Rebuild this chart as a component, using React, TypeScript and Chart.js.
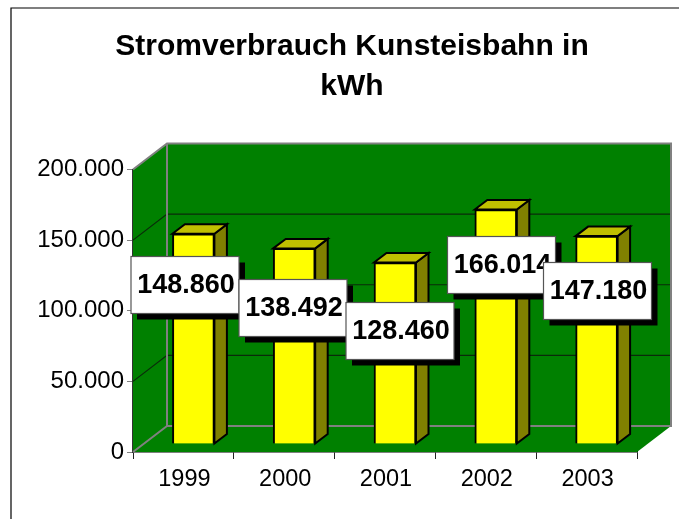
import React, { useEffect, useRef } from "react";
import { Chart, registerables } from "chart.js";

Chart.register(...registerables);

const years = ["1999", "2000", "2001", "2002", "2003"];
const consumption = [148860, 138492, 128460, 166014, 147180];
const valueLabels = ["148.860", "138.492", "128.460", "166.014", "147.180"];
const yTickLabels: Record<number, string> = { 0: "0", 50000: "50.000", 100000: "100.000", 150000: "150.000", 200000: "200.000" };
const titleLines = ["Stromverbrauch Kunsteisbahn in", "kWh"];

// Layout constants
const WALL_DX = 34, WALL_DY = -26;
const BAR_DX = 10, BAR_DY = -8;
const BAR_DEPTH_X = 12.5, BAR_DEPTH_Y = -9.5;
const LABEL_CENTER_X = [185, 293, 400, 501.5, 597.5];
const LABEL_CENTER_Y = [285, 308, 331, 265, 291];
const LABEL_W = 108, LABEL_H = 57;
const GREEN = "#008000";
const GREY = "#808080";
const FONT = "'Liberation Sans', Arial, sans-serif";

const scene = {
  id: "scene3d",
  beforeDraw(chart: any) {
    const { ctx, width, height } = chart;
    ctx.save();
    ctx.fillStyle = "#ffffff";
    ctx.fillRect(0, 0, width, height);
    ctx.strokeStyle = "#000000";
    ctx.lineWidth = 1.2;
    ctx.beginPath();
    ctx.moveTo(11, height);
    ctx.lineTo(11, 8);
    ctx.lineTo(width, 8);
    ctx.stroke();
    ctx.restore();
  },
  beforeDatasetsDraw(chart: any) {
    const { ctx, chartArea: a, scales } = chart;
    const y = scales.y;
    const l = a.left, r = a.right, t = a.top, b = a.bottom;
    const dx = WALL_DX, dy = WALL_DY;
    ctx.save();
    ctx.fillStyle = GREEN;
    ctx.beginPath();
    ctx.moveTo(l, b);
    ctx.lineTo(l + dx, b + dy);
    ctx.lineTo(l + dx, t + dy);
    ctx.lineTo(l, t);
    ctx.closePath();
    ctx.fill();
    ctx.beginPath();
    ctx.moveTo(l, b);
    ctx.lineTo(r, b);
    ctx.lineTo(r + dx, b + dy);
    ctx.lineTo(l + dx, b + dy);
    ctx.closePath();
    ctx.fill();
    ctx.fillRect(l + dx, t + dy, r - l, b - t);

    ctx.lineWidth = 1.2;
    ctx.strokeStyle = "#0a2a0a";
    for (const v of [50000, 100000, 150000]) {
      const p = y.getPixelForValue(v);
      ctx.beginPath();
      ctx.moveTo(l, p);
      ctx.lineTo(l + dx, p + dy);
      ctx.lineTo(r + dx, p + dy);
      ctx.stroke();
    }
    ctx.strokeStyle = GREY;
    ctx.lineWidth = 2;
    ctx.beginPath();
    ctx.moveTo(l, t);
    ctx.lineTo(l + dx, t + dy);
    ctx.lineTo(r + dx, t + dy);
    ctx.lineTo(r + dx, b + dy);
    ctx.lineTo(l + dx, b + dy);
    ctx.lineTo(l + dx, t + dy);
    ctx.moveTo(l + dx, b + dy);
    ctx.lineTo(l, b);
    ctx.stroke();

    // Bar sides and tops, from the bar elements' own geometry
    ctx.translate(BAR_DX, BAR_DY);
    ctx.lineWidth = 2;
    ctx.strokeStyle = "#000000";
    ctx.lineJoin = "miter";
    for (const bar of chart.getDatasetMeta(0).data) {
      const p = bar.getProps(["x", "y", "base", "width"], true);
      const x0 = p.x - p.width / 2, x1 = p.x + p.width / 2;
      ctx.fillStyle = "#808000";
      ctx.beginPath();
      ctx.moveTo(x1, p.y);
      ctx.lineTo(x1 + BAR_DEPTH_X, p.y + BAR_DEPTH_Y);
      ctx.lineTo(x1 + BAR_DEPTH_X, p.base + BAR_DEPTH_Y);
      ctx.lineTo(x1, p.base);
      ctx.closePath();
      ctx.fill();
      ctx.stroke();
      ctx.fillStyle = "#c0c000";
      ctx.beginPath();
      ctx.moveTo(x0, p.y);
      ctx.lineTo(x0 + BAR_DEPTH_X, p.y + BAR_DEPTH_Y);
      ctx.lineTo(x1 + BAR_DEPTH_X, p.y + BAR_DEPTH_Y);
      ctx.lineTo(x1, p.y);
      ctx.closePath();
      ctx.fill();
      ctx.stroke();
    }
    ctx.restore();
    // front faces are shifted onto the bar plane
    ctx.save();
    ctx.translate(BAR_DX, BAR_DY);
  },
  afterDatasetsDraw(chart: any) {
    const { ctx } = chart;
    ctx.restore();
    ctx.save();
    valueLabels.forEach((text, i) => {
      const cx = LABEL_CENTER_X[i], cy = LABEL_CENTER_Y[i];
      const x = cx - LABEL_W / 2, yy = cy - LABEL_H / 2;
      ctx.fillStyle = "#000000";
      ctx.fillRect(x + 6, yy + 6, LABEL_W, LABEL_H);
      ctx.fillStyle = "#ffffff";
      ctx.fillRect(x, yy, LABEL_W, LABEL_H);
      ctx.strokeStyle = "#555555";
      ctx.lineWidth = 1.2;
      ctx.strokeRect(x, yy, LABEL_W, LABEL_H);
      ctx.fillStyle = "#000000";
      ctx.font = `bold 27px ${FONT}`;
      ctx.textAlign = "center";
      ctx.textBaseline = "middle";
      ctx.fillText(text, cx + 1, cy + 1);
    });
    ctx.restore();
  },
};

export default function App() {
  const ref = useRef<HTMLCanvasElement>(null);
  useEffect(() => {
    document.body.style.margin = "0";
    const chart = new Chart(ref.current as HTMLCanvasElement, {
      type: "bar",
      data: {
        labels: years,
        datasets: [
          {
            data: consumption,
            backgroundColor: "#ffff00",
            borderColor: "#000000",
            borderWidth: 2,
            barThickness: 42,
            yAxisID: "y",
          },
        ],
      },
      plugins: [scene],
      options: {
        responsive: false,
        animation: false,
        layout: { padding: { top: 0, left: 25, right: 0, bottom: 0 } },
        plugins: {
          legend: { display: false },
          tooltip: { enabled: false },
          title: {
            display: true,
            text: titleLines,
            color: "#000000",
            font: { family: FONT, size: 30, weight: "bold", lineHeight: 1.33 },
            padding: { top: 27, bottom: 62.7 },
          },
        },
        scales: {
          x: {
            grid: { drawOnChartArea: false, color: "#222222", tickLength: 7 },
            border: { color: "#000000", width: 1.5 },
            ticks: { color: "#000000", font: { family: FONT, size: 23.5 }, padding: 6, maxRotation: 0, labelOffset: 1 },
            afterFit: (s: any) => { s.height = 67; },
          },
          y: {
            min: 0,
            max: 200000,
            grid: { drawOnChartArea: false, color: GREY, tickLength: 6 },
            border: { color: "#333333", width: 1.5 },
            afterBuildTicks: (s: any) => { s.ticks = Object.keys(yTickLabels).map((v) => ({ value: Number(v) })); },
            ticks: {
              color: "#000000",
              font: { family: FONT, size: 24 },
              padding: 3,
              callback: (v: any) => yTickLabels[Number(v)],
            },
            afterFit: (s: any) => { s.width = 108; },
          },
          yRightSpace: {
            axis: "y",
            position: "right",
            min: 0,
            max: 200000,
            grid: { display: false },
            border: { display: false },
            ticks: { display: false },
            afterFit: (s: any) => { s.width = 42; },
          },
        },
      },
    } as any);
    return () => chart.destroy();
  }, []);
  return <canvas ref={ref} width={679} height={519} style={{ display: "block" }} />;
}
